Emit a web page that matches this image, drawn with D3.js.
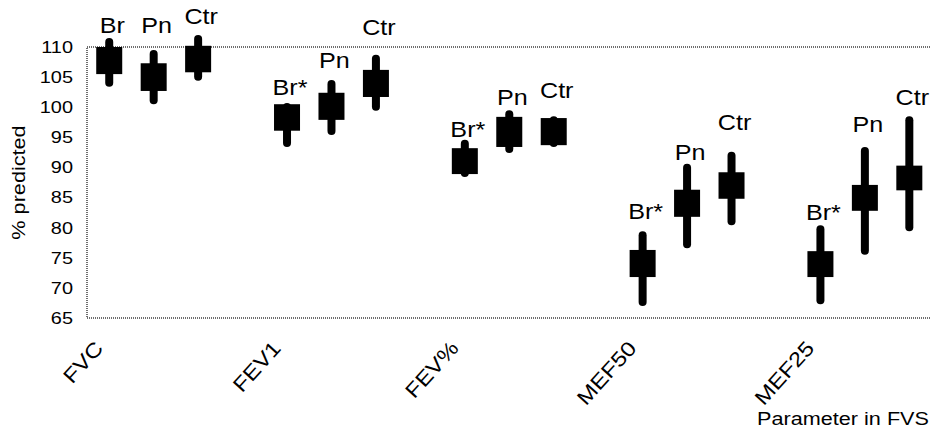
<!DOCTYPE html>
<html>
<head>
<meta charset="utf-8">
<script src="https://cdn.jsdelivr.net/npm/d3@7"></script>
<style>
  html, body { margin: 0; padding: 0; background: #fff; }
  svg { display: block; }
  text { font-family: "Liberation Sans", Arial, sans-serif; fill: #000; }
</style>
</head>
<body>
<svg id="chart" width="930" height="434"></svg>
<script>
// ---- data ----
const categories = ["FVC", "FEV1", "FEV%", "MEF50", "MEF25"];
const series = ["Br", "Pn", "Ctr"];
const yTicks = [65, 70, 75, 80, 85, 90, 95, 100, 105, 110];

// whisker (range) ends and box ends, % predicted
const brWhiskHigh  = [111.5, 100.7, 94.6, 79.4, 80.4];
const brBoxHigh    = [110.0, 100.5, 93.2, 76.3, 76.1];
const brBoxLow     = [105.5,  96.1, 88.9, 71.8, 71.8];
const brWhiskLow   = [103.4,  93.4, 88.4, 67.0, 67.3];

const pnWhiskHigh  = [109.5, 104.5, 99.5, 90.6, 93.4];
const pnBoxHigh    = [107.3, 102.4, 98.4, 86.3, 87.1];
const pnBoxLow     = [102.7,  97.9, 93.4, 81.8, 82.8];
const pnWhiskLow   = [100.5,  95.4, 92.4, 76.6, 75.5];

const ctrWhiskHigh = [112.0, 108.7, 98.5, 92.6, 98.5];
const ctrBoxHigh   = [110.2, 106.2, 98.2, 89.2, 90.3];
const ctrBoxLow    = [105.8, 101.7, 93.7, 84.8, 86.2];
const ctrWhiskLow  = [104.4,  99.4, 93.4, 80.4, 79.4];

// label texts and the level (in % predicted) at which each sits
const brLabels  = ["Br", "Br*", "Br*", "Br*", "Br*"];
const pnLabels  = ["Pn", "Pn", "Pn", "Pn", "Pn"];
const ctrLabels = ["Ctr", "Ctr", "Ctr", "Ctr", "Ctr"];
const brLabelLevel  = [112.3, 102.0,  95.1, 81.4, 81.3];
const pnLabelLevel  = [112.3, 106.5, 100.4, 91.2, 95.9];
const ctrLabelLevel = [113.8, 112.0, 101.5, 96.2, 100.4];

const yTitle = "% predicted";
const xTitle = "Parameter in FVS";

// ---- build ----
const table = [];
const src = {
  Br:  [brWhiskHigh, brBoxHigh, brBoxLow, brWhiskLow, brLabels, brLabelLevel],
  Pn:  [pnWhiskHigh, pnBoxHigh, pnBoxLow, pnWhiskLow, pnLabels, pnLabelLevel],
  Ctr: [ctrWhiskHigh, ctrBoxHigh, ctrBoxLow, ctrWhiskLow, ctrLabels, ctrLabelLevel]
};
categories.forEach((c, i) => {
  series.forEach(s => {
    const a = src[s];
    table.push({cat: c, s: s, wh: a[0][i], bh: a[1][i], bl: a[2][i], wl: a[3][i], label: a[4][i], ll: a[5][i]});
  });
});

const svg = d3.select("#chart");
const pLeft = 87, pTop = 47, pBottom = 318;
const slot = 44.45;
const SX = 1.17; // horizontal text stretch of the original rendering

const y = d3.scaleLinear().domain([65, 110]).range([pBottom, pTop]);
const x0 = d3.scaleBand().domain(categories).range([pLeft, pLeft + categories.length * 4 * slot]).padding(0);
const x1 = d3.scaleBand().domain(["Br", "Pn", "Ctr", "_"]).range([0, x0.bandwidth()]).padding(0);
const cx = d => x0(d.cat) + x1(d.s) + x1.bandwidth() / 2;

// plot border (dotted grey)
const pRight = x0.range()[1];
svg.append("rect")
  .attr("x", pLeft).attr("y", pTop)
  .attr("width", pRight - pLeft).attr("height", pBottom - pTop)
  .attr("fill", "none")
  .attr("stroke", "#6e6e6e")
  .attr("stroke-width", 2)
  .attr("stroke-dasharray", "1 1");

// y axis
const yAxis = svg.append("g")
  .attr("transform", `translate(${pLeft},0)`)
  .call(d3.axisLeft(y).tickValues(yTicks).tickSize(0).tickPadding(12));
yAxis.select(".domain").remove();
yAxis.selectAll("text")
  .attr("font-size", 17)
  .attr("font-family", "Liberation Sans, Arial, sans-serif")
  .attr("fill", "#000")
  .attr("transform", `scale(${SX},1)`);

// marks
const marks = svg.append("g");
const capR = 4;
marks.selectAll("line.w").data(table).join("line")
  .attr("class", "w")
  .attr("x1", cx).attr("x2", cx)
  .attr("y1", d => y(d.wh) + capR)
  .attr("y2", d => y(d.wl) - capR)
  .attr("stroke", "#000")
  .attr("stroke-width", 8)
  .attr("stroke-linecap", "round");
const boxW = 26;
marks.selectAll("rect.b").data(table).join("rect")
  .attr("class", "b")
  .attr("x", d => cx(d) - boxW / 2)
  .attr("width", boxW)
  .attr("y", d => y(d.bh))
  .attr("height", d => y(d.bl) - y(d.bh))
  .attr("fill", "#000");

// mark labels
svg.append("g").selectAll("text").data(table).join("text")
  .attr("transform", d => `translate(${cx(d) + 3},${y(d.ll)}) scale(${SX},1)`)
  .attr("text-anchor", "middle")
  .attr("font-size", 21.5)
  .text(d => d.label);

// category labels
svg.append("g").selectAll("text").data(categories).join("text")
  .attr("transform", c => `translate(${x0(c) + x1("Br") + x1.bandwidth() / 2 - 5},349) rotate(-48) scale(${SX},1)`)
  .attr("text-anchor", "end")
  .attr("font-size", 20.5)
  .text(c => c);

// axis titles
svg.append("text")
  .attr("transform", `translate(25,${(pTop + pBottom) / 2}) rotate(-90) scale(${SX},1)`)
  .attr("text-anchor", "middle")
  .attr("font-size", 18.5)
  .text(yTitle);

svg.append("text")
  .attr("transform", `translate(929,425) scale(${SX},1)`)
  .attr("text-anchor", "end")
  .attr("font-size", 18.5)
  .text(xTitle);
</script>
</body>
</html>
